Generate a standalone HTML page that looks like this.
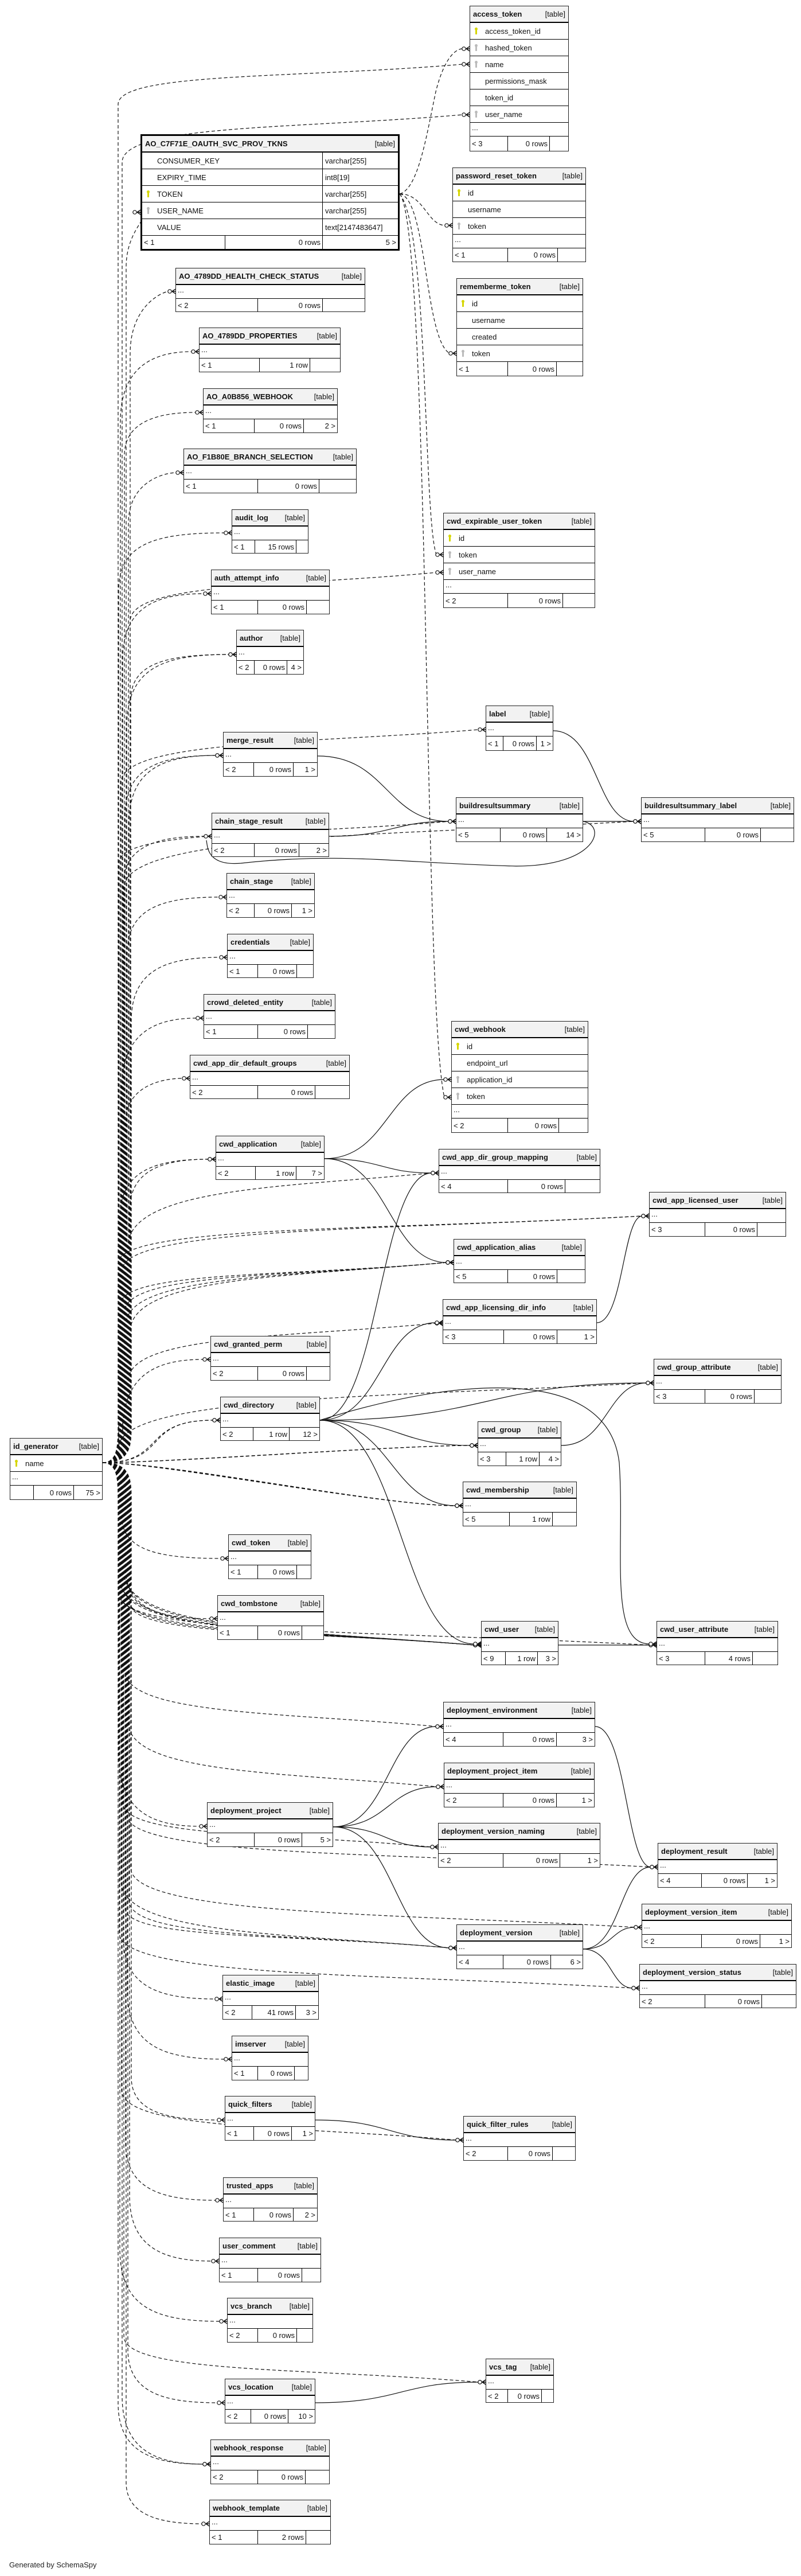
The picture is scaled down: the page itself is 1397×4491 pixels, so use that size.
<!DOCTYPE html>
<html><head><meta charset="utf-8">
<style>
html,body{margin:0;padding:0;background:#fff}
body{width:1397px;height:4491px;position:relative;overflow:hidden;font:13px "Liberation Sans",sans-serif;color:#111}
svg#c{position:absolute;left:0;top:0}
.t{position:absolute;border:1px solid #222;background:#fff;box-sizing:border-box;display:flex;flex-direction:column;overflow:hidden}
.h{height:29px;flex:none;background:#f2f2f2;border-bottom:2px solid #000;display:flex;justify-content:space-between;align-items:center;padding:0 5px;white-space:nowrap;box-sizing:border-box}
.h b{font-weight:bold}
.r{height:29px;flex:none;border-bottom:1px solid #000;display:flex;align-items:center;padding-left:26px;position:relative;white-space:nowrap;box-sizing:border-box}
.d{height:24px;flex:none;border-bottom:1px solid #000;padding-left:3px;line-height:18px;box-sizing:border-box}
.f{flex:1;display:flex}
.f span{box-sizing:border-box;border-right:1px solid #000;display:flex;align-items:center;padding:0 3px;white-space:nowrap;flex:none}
.f span:nth-child(2){justify-content:flex-end}
.f span:last-child{flex:1;border-right:0;justify-content:flex-end}
.k{position:absolute;left:9px;top:8px;width:3px;height:12px;background:#d6d600;border-radius:2px 2px 1px 1px}
.k:before{content:"";position:absolute;left:-1px;top:0;width:5px;height:5px;border-radius:50%;background:inherit}
.g{background:#bbb}
.ao{border:3px solid #000}
.ao .r{padding-left:0}
.ao .r i{font-style:normal;display:flex;align-items:center;height:100%;box-sizing:border-box}
.ao .r i:first-of-type{width:315px;padding-left:26px;border-right:1px solid #000}
.ao .r i:last-of-type{padding-left:4px}
.gen{position:absolute;left:16px;top:4464px;font-size:13px;color:#222}
</style></head><body>
<svg id="c" width="1397" height="4491" xmlns="http://www.w3.org/2000/svg"></svg>

<div class="t" style="left:819px;top:10px;width:173px;height:254px"><div class="h"><b>access_token</b><span>[table]</span></div>
<div class="r"><i class="k"></i>access_token_id</div><div class="r"><i class="k g"></i>hashed_token</div><div class="r"><i class="k g"></i>name</div><div class="r">permissions_mask</div><div class="r">token_id</div><div class="r"><i class="k g"></i>user_name</div><div class="d">...</div>
<div class="f"><span style="width:66px">&lt; 3</span><span style="width:73px">0 rows</span><span></span></div></div>

<div class="t ao" style="left:245px;top:234px;width:452px;height:203px"><div class="h"><b>AO_C7F71E_OAUTH_SVC_PROV_TKNS</b><span>[table]</span></div>
<div class="r"><i>CONSUMER_KEY</i><i>varchar[255]</i></div><div class="r"><i>EXPIRY_TIME</i><i>int8[19]</i></div><div class="r"><b class="k"></b><i>TOKEN</i><i>varchar[255]</i></div><div class="r"><b class="k g"></b><i>USER_NAME</i><i>varchar[255]</i></div><div class="r"><i>VALUE</i><i>text[2147483647]</i></div>
<div class="f"><span style="width:145px">&lt; 1</span><span style="width:170px">0 rows</span><span>5 &gt;</span></div></div>

<div class="t" style="left:789px;top:292px;width:233px;height:165px"><div class="h"><b>password_reset_token</b><span>[table]</span></div>
<div class="r"><i class="k"></i>id</div><div class="r">username</div><div class="r"><i class="k g"></i>token</div><div class="d">...</div>
<div class="f"><span style="width:96px">&lt; 1</span><span style="width:87px">0 rows</span><span></span></div></div>

<div class="t" style="left:796px;top:485px;width:221px;height:171px"><div class="h"><b>rememberme_token</b><span>[table]</span></div>
<div class="r"><i class="k"></i>id</div><div class="r">username</div><div class="r">created</div><div class="r"><i class="k g"></i>token</div>
<div class="f"><span style="width:89px">&lt; 1</span><span style="width:85px">0 rows</span><span></span></div></div>

<div class="t" style="left:773px;top:894px;width:265px;height:166px"><div class="h"><b>cwd_expirable_user_token</b><span>[table]</span></div>
<div class="r"><i class="k"></i>id</div><div class="r"><i class="k g"></i>token</div><div class="r"><i class="k g"></i>user_name</div><div class="d">...</div>
<div class="f"><span style="width:112px">&lt; 2</span><span style="width:96px">0 rows</span><span></span></div></div>

<div class="t" style="left:787px;top:1780px;width:239px;height:195px"><div class="h"><b>cwd_webhook</b><span>[table]</span></div>
<div class="r"><i class="k"></i>id</div><div class="r">endpoint_url</div><div class="r"><i class="k g"></i>application_id</div><div class="r"><i class="k g"></i>token</div><div class="d">...</div>
<div class="f"><span style="width:98px">&lt; 2</span><span style="width:89px">0 rows</span><span></span></div></div>

<div class="t" style="left:17px;top:2507px;width:162px;height:108px"><div class="h"><b>id_generator</b><span>[table]</span></div>
<div class="r"><i class="k"></i>name</div><div class="d">...</div>
<div class="f"><span style="width:41px"></span><span style="width:70px">0 rows</span><span>75 &gt;</span></div></div>

<div class="t" style="left:306px;top:467px;width:331px;height:77px"><div class="h"><b>AO_4789DD_HEALTH_CHECK_STATUS</b><span>[table]</span></div><div class="d">...</div><div class="f"><span style="width:143px">&lt; 2</span><span style="width:113px">0 rows</span><span></span></div></div>
<div class="t" style="left:347px;top:571px;width:247px;height:78px"><div class="h"><b>AO_4789DD_PROPERTIES</b><span>[table]</span></div><div class="d">...</div><div class="f"><span style="width:105px">&lt; 1</span><span style="width:88px">1 row</span><span></span></div></div>
<div class="t" style="left:354px;top:677px;width:235px;height:78px"><div class="h"><b>AO_A0B856_WEBHOOK</b><span>[table]</span></div><div class="d">...</div><div class="f"><span style="width:89px">&lt; 1</span><span style="width:86px">0 rows</span><span>2 &gt;</span></div></div>
<div class="t" style="left:320px;top:782px;width:302px;height:78px"><div class="h"><b>AO_F1B80E_BRANCH_SELECTION</b><span>[table]</span></div><div class="d">...</div><div class="f"><span style="width:129px">&lt; 1</span><span style="width:107px">0 rows</span><span></span></div></div>
<div class="t" style="left:404px;top:888px;width:134px;height:77px"><div class="h"><b>audit_log</b><span>[table]</span></div><div class="d">...</div><div class="f"><span style="width:40px">&lt; 1</span><span style="width:72px">15 rows</span><span></span></div></div>
<div class="t" style="left:368px;top:993px;width:207px;height:78px"><div class="h"><b>auth_attempt_info</b><span>[table]</span></div><div class="d">...</div><div class="f"><span style="width:81px">&lt; 1</span><span style="width:85px">0 rows</span><span></span></div></div>
<div class="t" style="left:412px;top:1098px;width:118px;height:78px"><div class="h"><b>author</b><span>[table]</span></div><div class="d">...</div><div class="f"><span style="width:31px">&lt; 2</span><span style="width:57px">0 rows</span><span>4 &gt;</span></div></div>
<div class="t" style="left:847px;top:1230px;width:118px;height:79px"><div class="h"><b>label</b><span>[table]</span></div><div class="d">...</div><div class="f"><span style="width:30px">&lt; 1</span><span style="width:58px">0 rows</span><span>1 &gt;</span></div></div>
<div class="t" style="left:389px;top:1276px;width:165px;height:78px"><div class="h"><b>merge_result</b><span>[table]</span></div><div class="d">...</div><div class="f"><span style="width:53px">&lt; 2</span><span style="width:69px">0 rows</span><span>1 &gt;</span></div></div>
<div class="t" style="left:795px;top:1390px;width:222px;height:78px"><div class="h"><b>buildresultsummary</b><span>[table]</span></div><div class="d">...</div><div class="f"><span style="width:77px">&lt; 5</span><span style="width:81px">0 rows</span><span>14 &gt;</span></div></div>
<div class="t" style="left:1118px;top:1390px;width:267px;height:78px"><div class="h"><b>buildresultsummary_label</b><span>[table]</span></div><div class="d">...</div><div class="f"><span style="width:111px">&lt; 5</span><span style="width:97px">0 rows</span><span></span></div></div>
<div class="t" style="left:369px;top:1417px;width:205px;height:77px"><div class="h"><b>chain_stage_result</b><span>[table]</span></div><div class="d">...</div><div class="f"><span style="width:74px">&lt; 2</span><span style="width:78px">0 rows</span><span>2 &gt;</span></div></div>
<div class="t" style="left:395px;top:1522px;width:154px;height:78px"><div class="h"><b>chain_stage</b><span>[table]</span></div><div class="d">...</div><div class="f"><span style="width:48px">&lt; 2</span><span style="width:65px">0 rows</span><span>1 &gt;</span></div></div>
<div class="t" style="left:396px;top:1628px;width:151px;height:77px"><div class="h"><b>credentials</b><span>[table]</span></div><div class="d">...</div><div class="f"><span style="width:53px">&lt; 1</span><span style="width:68px">0 rows</span><span></span></div></div>
<div class="t" style="left:355px;top:1733px;width:230px;height:78px"><div class="h"><b>crowd_deleted_entity</b><span>[table]</span></div><div class="d">...</div><div class="f"><span style="width:94px">&lt; 1</span><span style="width:87px">0 rows</span><span></span></div></div>
<div class="t" style="left:331px;top:1839px;width:279px;height:77px"><div class="h"><b>cwd_app_dir_default_groups</b><span>[table]</span></div><div class="d">...</div><div class="f"><span style="width:118px">&lt; 2</span><span style="width:100px">0 rows</span><span></span></div></div>
<div class="t" style="left:376px;top:1980px;width:190px;height:77px"><div class="h"><b>cwd_application</b><span>[table]</span></div><div class="d">...</div><div class="f"><span style="width:69px">&lt; 2</span><span style="width:71px">1 row</span><span>7 &gt;</span></div></div>
<div class="t" style="left:765px;top:2003px;width:282px;height:77px"><div class="h"><b>cwd_app_dir_group_mapping</b><span>[table]</span></div><div class="d">...</div><div class="f"><span style="width:120px">&lt; 4</span><span style="width:100px">0 rows</span><span></span></div></div>
<div class="t" style="left:1132px;top:2078px;width:239px;height:78px"><div class="h"><b>cwd_app_licensed_user</b><span>[table]</span></div><div class="d">...</div><div class="f"><span style="width:97px">&lt; 3</span><span style="width:91px">0 rows</span><span></span></div></div>
<div class="t" style="left:791px;top:2160px;width:230px;height:77px"><div class="h"><b>cwd_application_alias</b><span>[table]</span></div><div class="d">...</div><div class="f"><span style="width:94px">&lt; 5</span><span style="width:86px">0 rows</span><span></span></div></div>
<div class="t" style="left:772px;top:2265px;width:269px;height:78px"><div class="h"><b>cwd_app_licensing_dir_info</b><span>[table]</span></div><div class="d">...</div><div class="f"><span style="width:106px">&lt; 3</span><span style="width:93px">0 rows</span><span>1 &gt;</span></div></div>
<div class="t" style="left:367px;top:2329px;width:209px;height:78px"><div class="h"><b>cwd_granted_perm</b><span>[table]</span></div><div class="d">...</div><div class="f"><span style="width:82px">&lt; 2</span><span style="width:85px">0 rows</span><span></span></div></div>
<div class="t" style="left:1140px;top:2369px;width:223px;height:78px"><div class="h"><b>cwd_group_attribute</b><span>[table]</span></div><div class="d">...</div><div class="f"><span style="width:89px">&lt; 3</span><span style="width:86px">0 rows</span><span></span></div></div>
<div class="t" style="left:384px;top:2435px;width:174px;height:77px"><div class="h"><b>cwd_directory</b><span>[table]</span></div><div class="d">...</div><div class="f"><span style="width:57px">&lt; 2</span><span style="width:63px">1 row</span><span>12 &gt;</span></div></div>
<div class="t" style="left:833px;top:2478px;width:146px;height:78px"><div class="h"><b>cwd_group</b><span>[table]</span></div><div class="d">...</div><div class="f"><span style="width:49px">&lt; 3</span><span style="width:58px">1 row</span><span>4 &gt;</span></div></div>
<div class="t" style="left:807px;top:2583px;width:199px;height:78px"><div class="h"><b>cwd_membership</b><span>[table]</span></div><div class="d">...</div><div class="f"><span style="width:81px">&lt; 5</span><span style="width:75px">1 row</span><span></span></div></div>
<div class="t" style="left:398px;top:2675px;width:145px;height:78px"><div class="h"><b>cwd_token</b><span>[table]</span></div><div class="d">...</div><div class="f"><span style="width:51px">&lt; 1</span><span style="width:68px">0 rows</span><span></span></div></div>
<div class="t" style="left:379px;top:2781px;width:186px;height:78px"><div class="h"><b>cwd_tombstone</b><span>[table]</span></div><div class="d">...</div><div class="f"><span style="width:70px">&lt; 1</span><span style="width:77px">0 rows</span><span></span></div></div>
<div class="t" style="left:839px;top:2826px;width:135px;height:77px"><div class="h"><b>cwd_user</b><span>[table]</span></div><div class="d">...</div><div class="f"><span style="width:42px">&lt; 9</span><span style="width:56px">1 row</span><span>3 &gt;</span></div></div>
<div class="t" style="left:1145px;top:2826px;width:212px;height:77px"><div class="h"><b>cwd_user_attribute</b><span>[table]</span></div><div class="d">...</div><div class="f"><span style="width:84px">&lt; 3</span><span style="width:83px">4 rows</span><span></span></div></div>
<div class="t" style="left:773px;top:2967px;width:265px;height:78px"><div class="h"><b>deployment_environment</b><span>[table]</span></div><div class="d">...</div><div class="f"><span style="width:104px">&lt; 4</span><span style="width:93px">0 rows</span><span>3 &gt;</span></div></div>
<div class="t" style="left:774px;top:3073px;width:263px;height:78px"><div class="h"><b>deployment_project_item</b><span>[table]</span></div><div class="d">...</div><div class="f"><span style="width:103px">&lt; 2</span><span style="width:93px">0 rows</span><span>1 &gt;</span></div></div>
<div class="t" style="left:361px;top:3142px;width:220px;height:78px"><div class="h"><b>deployment_project</b><span>[table]</span></div><div class="d">...</div><div class="f"><span style="width:82px">&lt; 2</span><span style="width:83px">0 rows</span><span>5 &gt;</span></div></div>
<div class="t" style="left:764px;top:3178px;width:283px;height:78px"><div class="h"><b>deployment_version_naming</b><span>[table]</span></div><div class="d">...</div><div class="f"><span style="width:113px">&lt; 2</span><span style="width:99px">0 rows</span><span>1 &gt;</span></div></div>
<div class="t" style="left:1147px;top:3213px;width:209px;height:78px"><div class="h"><b>deployment_result</b><span>[table]</span></div><div class="d">...</div><div class="f"><span style="width:76px">&lt; 4</span><span style="width:80px">0 rows</span><span>1 &gt;</span></div></div>
<div class="t" style="left:1119px;top:3319px;width:262px;height:77px"><div class="h"><b>deployment_version_item</b><span>[table]</span></div><div class="d">...</div><div class="f"><span style="width:104px">&lt; 2</span><span style="width:102px">0 rows</span><span>1 &gt;</span></div></div>
<div class="t" style="left:796px;top:3355px;width:221px;height:78px"><div class="h"><b>deployment_version</b><span>[table]</span></div><div class="d">...</div><div class="f"><span style="width:81px">&lt; 4</span><span style="width:83px">0 rows</span><span>6 &gt;</span></div></div>
<div class="t" style="left:1115px;top:3424px;width:274px;height:77px"><div class="h"><b>deployment_version_status</b><span>[table]</span></div><div class="d">...</div><div class="f"><span style="width:114px">&lt; 2</span><span style="width:99px">0 rows</span><span></span></div></div>
<div class="t" style="left:388px;top:3443px;width:168px;height:78px"><div class="h"><b>elastic_image</b><span>[table]</span></div><div class="d">...</div><div class="f"><span style="width:51px">&lt; 2</span><span style="width:76px">41 rows</span><span>3 &gt;</span></div></div>
<div class="t" style="left:404px;top:3549px;width:134px;height:78px"><div class="h"><b>imserver</b><span>[table]</span></div><div class="d">...</div><div class="f"><span style="width:45px">&lt; 1</span><span style="width:64px">0 rows</span><span></span></div></div>
<div class="t" style="left:392px;top:3654px;width:158px;height:78px"><div class="h"><b>quick_filters</b><span>[table]</span></div><div class="d">...</div><div class="f"><span style="width:50px">&lt; 1</span><span style="width:66px">0 rows</span><span>1 &gt;</span></div></div>
<div class="t" style="left:808px;top:3689px;width:196px;height:78px"><div class="h"><b>quick_filter_rules</b><span>[table]</span></div><div class="d">...</div><div class="f"><span style="width:77px">&lt; 2</span><span style="width:78px">0 rows</span><span></span></div></div>
<div class="t" style="left:389px;top:3796px;width:165px;height:77px"><div class="h"><b>trusted_apps</b><span>[table]</span></div><div class="d">...</div><div class="f"><span style="width:53px">&lt; 1</span><span style="width:69px">0 rows</span><span>2 &gt;</span></div></div>
<div class="t" style="left:382px;top:3901px;width:178px;height:78px"><div class="h"><b>user_comment</b><span>[table]</span></div><div class="d">...</div><div class="f"><span style="width:67px">&lt; 1</span><span style="width:77px">0 rows</span><span></span></div></div>
<div class="t" style="left:396px;top:4006px;width:150px;height:78px"><div class="h"><b>vcs_branch</b><span>[table]</span></div><div class="d">...</div><div class="f"><span style="width:53px">&lt; 2</span><span style="width:68px">0 rows</span><span></span></div></div>
<div class="t" style="left:847px;top:4112px;width:119px;height:77px"><div class="h"><b>vcs_tag</b><span>[table]</span></div><div class="d">...</div><div class="f"><span style="width:38px">&lt; 2</span><span style="width:59px">0 rows</span><span></span></div></div>
<div class="t" style="left:392px;top:4147px;width:158px;height:78px"><div class="h"><b>vcs_location</b><span>[table]</span></div><div class="d">...</div><div class="f"><span style="width:45px">&lt; 2</span><span style="width:65px">0 rows</span><span>10 &gt;</span></div></div>
<div class="t" style="left:367px;top:4253px;width:208px;height:78px"><div class="h"><b>webhook_response</b><span>[table]</span></div><div class="d">...</div><div class="f"><span style="width:82px">&lt; 2</span><span style="width:83px">0 rows</span><span></span></div></div>
<div class="t" style="left:365px;top:4358px;width:212px;height:78px"><div class="h"><b>webhook_template</b><span>[table]</span></div><div class="d">...</div><div class="f"><span style="width:84px">&lt; 1</span><span style="width:84px">2 rows</span><span></span></div></div>

<div class="gen">Generated by SchemaSpy</div>

<script>
(function(){
var svg=document.getElementById('c'),NS='http://www.w3.org/2000/svg',out='';
function p(d,dash){out+='<path d="'+d+'" fill="none" stroke="#111" stroke-width="1.2"'+(dash?' stroke-dasharray="6,4"':'')+'/>';}
function foot(x,y){out+='<circle cx="'+(x-10)+'" cy="'+y+'" r="3.2" fill="#fff" stroke="#111" stroke-width="1.2"/>'+
'<path d="M'+(x-6)+','+y+' L'+x+','+(y-4)+' M'+(x-6)+','+y+' L'+x+','+y+' M'+(x-6)+','+y+' L'+x+','+(y+4)+'" stroke="#111" stroke-width="1.4" fill="none"/>';}
var T=[[819,112],[819,200],[245,370],[306,508],[347,613],[354,719],[320,824],[404,929],[368,1035],[412,1141],[412,1141],[847,1272],[389,1317],[389,1317],[795,1432],[369,1458],[395,1564],[396,1669],[355,1775],[331,1880],[376,2021],[376,2021],[1118,1432],[765,2045],[1132,2120],[1132,2120],[791,2201],[791,2201],[791,2201],[791,2201],[772,2307],[1140,2411],[367,2370],[384,2476],[384,2476],[833,2520],[833,2520],[833,2520],[807,2625],[807,2625],[807,2625],[807,2625],[398,2717],[379,2822],[839,2868],[839,2868],[839,2868],[839,2868],[839,2868],[839,2868],[839,2868],[839,2868],[1145,2868],[773,3010],[774,3115],[361,3184],[764,3220],[1147,3255],[1119,3360],[796,3396],[796,3396],[796,3396],[1115,3466],[388,3485],[404,3590],[392,3696],[808,3731],[389,3836],[382,3942],[396,4047],[847,4153],[392,4189],[367,4296],[367,4296],[365,4400],[773,998]];
var sx=179,sy=2550;
T.forEach(function(t,i){
 var tx=t[0],ty=t[1],x0=206+(i*7)%24,d=ty-sy,e=tx-12;
 if(Math.abs(d)<130){p('M'+sx+','+sy+' C'+(x0+70)+','+sy+' '+(tx-140)+','+ty+' '+e+','+ty,1);}
 else{var s=d<0?-1:1,off=70+(i*13)%60,yA=ty-s*off;
  var mx=tx>700?(x0+tx)/2:x0+60;
  p('M'+sx+','+sy+' C'+x0+','+sy+' '+x0+','+(sy+s*30)+' '+x0+','+(sy+s*70)+' L'+x0+','+yA+' C'+x0+','+(ty-s*off*0.2)+' '+mx+','+(ty-s*(tx>700?25:0))+' '+e+','+ty,1);}
 foot(tx,ty);
});
// AO TOKEN dashed
p('M697,338 C730,330 745,230 760,160 C775,100 795,85 807,85',1);foot(819,85);
p('M697,338 C740,338 745,393 777,393',1);foot(789,393);
p('M697,338 C745,345 740,590 784,616',1);foot(796,616);
p('M697,338 C748,400 738,900 761,967',1);foot(773,967);
p('M697,338 C750,400 738,1750 775,1913',1);foot(787,1913);
// solid
var S=[[566,2020,787,1882],[566,2020,765,2045],[566,2020,791,2201],[1041,2306,1132,2120],[558,2476,765,2045],[558,2476,772,2306],[558,2476,1140,2411],[558,2476,833,2520],[558,2476,807,2625],[558,2476,839,2866],[979,2520,1140,2411],[974,2868,1145,2868],[554,1318,795,1432],[574,1458,795,1432],[965,1274,1118,1432],[1017,1432,1118,1432],[581,3185,773,3010],[581,3185,774,3115],[581,3185,764,3220],[581,3185,796,3396],[1038,3010,1147,3255],[1017,3398,1147,3255],[1017,3398,1119,3360],[1017,3398,1115,3466],[550,3696,808,3731],[550,4189,847,4153]];
S.forEach(function(s){var a=s[0],b=s[1],c=s[2],d=s[3],h=Math.max(40,(c-a)*0.5);
 p('M'+a+','+b+' C'+(a+h)+','+b+' '+(c-h)+','+d+' '+(c-12)+','+d,0);foot(c,d);});
p('M1017,1432 C1060,1440 1040,1510 900,1510 C700,1505 600,1485 420,1505 C360,1510 362,1475 360,1465',0);
p('M558,2476 C800,2400 1060,2380 1080,2550 C1090,2700 1060,2866 1133,2866',0);foot(1145,2866);
svg.innerHTML=out;
})();
</script>
</body></html>
